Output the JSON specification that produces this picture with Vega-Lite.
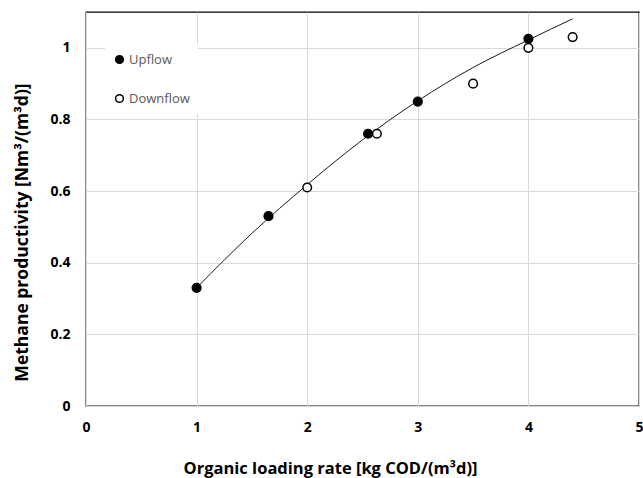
{
  "$schema": "https://vega.github.io/schema/vega-lite/v6.json",
  "autosize": "none",
  "width": 553,
  "height": 394,
  "padding": {"left": 86, "top": 12, "right": 4, "bottom": 72},
  "background": "white",
  "config": {
    "view": {"stroke": "#000000", "strokeWidth": 1.3},
    "font": "Open Sans",
    "axis": {
      "grid": true,
      "gridColor": "#d9d9d9",
      "gridWidth": 1,
      "domain": false,
      "ticks": false,
      "labelFlush": false,
      "labelFont": "Open Sans",
      "labelFontSize": 14,
      "labelFontWeight": "bold",
      "labelColor": "#000000",
      "titleFont": "Open Sans",
      "titleFontWeight": "bold",
      "titleColor": "#000000"
    }
  },
  "datasets": {
    "points": [
      {"series": "Upflow", "olr": 1.0, "mp": 0.33},
      {"series": "Upflow", "olr": 1.65, "mp": 0.53},
      {"series": "Upflow", "olr": 2.55, "mp": 0.76},
      {"series": "Upflow", "olr": 3.0, "mp": 0.85},
      {"series": "Upflow", "olr": 4.0, "mp": 1.025},
      {"series": "Downflow", "olr": 2.0, "mp": 0.61},
      {"series": "Downflow", "olr": 2.63, "mp": 0.76},
      {"series": "Downflow", "olr": 3.5, "mp": 0.9},
      {"series": "Downflow", "olr": 4.0, "mp": 1.0},
      {"series": "Downflow", "olr": 4.4, "mp": 1.03}
    ],
    "trend": [
      {"olr": 1.0, "mp": 0.33},
      {"olr": 1.5, "mp": 0.482},
      {"olr": 2.0, "mp": 0.618},
      {"olr": 2.5, "mp": 0.743},
      {"olr": 3.0, "mp": 0.852},
      {"olr": 3.5, "mp": 0.945},
      {"olr": 4.0, "mp": 1.022},
      {"olr": 4.4, "mp": 1.081}
    ]
  },
  "encoding": {
    "x": {
      "field": "olr",
      "type": "quantitative",
      "scale": {"domain": [0, 5], "nice": false, "zero": true},
      "axis": {
        "values": [0, 1, 2, 3, 4, 5],
        "format": "d",
        "labelPadding": 14,
        "title": "Organic loading rate [kg COD/(m³d)]",
        "titleFontSize": 16.5,
        "titleX": 244,
        "titleY": 62,
        "titleAlign": "center",
        "titleBaseline": "middle"
      }
    },
    "y": {
      "field": "mp",
      "type": "quantitative",
      "scale": {"domain": [0, 1.1], "nice": false, "zero": true},
      "axis": {
        "values": [0, 0.2, 0.4, 0.6, 0.8, 1],
        "format": ".1~f",
        "labelPadding": 16,
        "title": "Methane productivity [Nm³/(m³d)]",
        "titleFontSize": 17.5,
        "titleX": -64,
        "titleY": 220,
        "titleAlign": "center",
        "titleBaseline": "middle",
        "titleAngle": -90
      }
    }
  },
  "layer": [
    {
      "data": {"name": "trend"},
      "mark": {"type": "line", "color": "#1a1a1a", "strokeWidth": 1, "interpolate": "monotone"},
      "encoding": {}
    },
    {
      "data": {"name": "points"},
      "mark": {"type": "point", "shape": "circle", "size": 75, "stroke": "#000000", "strokeWidth": 1.5, "opacity": 1},
      "encoding": {
        "fill": {
          "field": "series",
          "type": "nominal",
          "scale": {"domain": ["Upflow", "Downflow"], "range": ["#000000", "#ffffff"]},
          "legend": {
            "title": null,
            "orient": "none",
            "legendX": 19,
            "legendY": 33,
            "padding": 8,
            "fillColor": "white",
            "symbolType": "circle",
            "symbolSize": 60,
            "symbolStrokeColor": "#000000",
            "symbolStrokeWidth": 1.5,
            "symbolOpacity": 1,
            "labelFontSize": 13,
            "labelFontWeight": "normal",
            "labelColor": "#595959",
            "labelFont": "Open Sans",
            "rowPadding": 24,
            "labelOffset": 3
          }
        }
      }
    }
  ]
}
